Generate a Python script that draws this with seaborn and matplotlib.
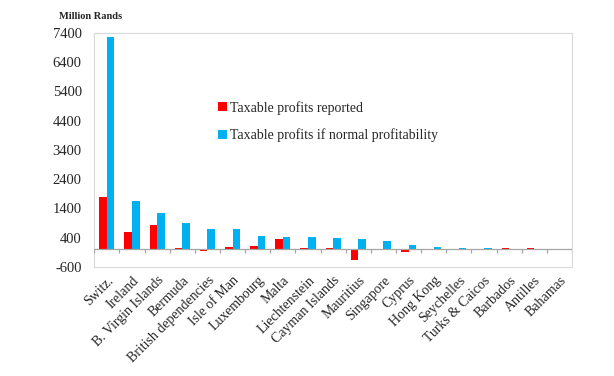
import numpy as np
import pandas as pd
import matplotlib
matplotlib.use('Agg')
import matplotlib.pyplot as plt
import seaborn as sns

countries = ['Switz.', 'Ireland', 'B. Virgin Islands', 'Bermuda', 'British dependencies',
             'Isle of Man', 'Luxembourg', 'Malta', 'Liechtenstein', 'Cayman Islands',
             'Mauritius', 'Singapore', 'Cyprus', 'Hong Kong', 'Seychelles',
             'Turks & Caicos', 'Barbados', 'Antilles', 'Bahamas']
reported = [1800, 600, 850, 50, -50, 90, 110, 370, 40, 40,
            -350, -10, -80, -10, 10, 10, 40, 40, -10]
normal = [7250, 1650, 1250, 900, 700, 700, 450, 425, 415, 380,
          370, 280, 160, 90, 60, 50, 30, 15, 10]
series = ['Taxable profits reported', 'Taxable profits if normal profitability']
colors = ['#FF0000', '#00B0F0']
yticks = [-600, 400, 1400, 2400, 3400, 4400, 5400, 6400, 7400]

df = pd.concat([
    pd.DataFrame({'country': countries, 'value': reported, 'series': series[0]}),
    pd.DataFrame({'country': countries, 'value': normal, 'series': series[1]}),
])

sns.set_style('white')
plt.rcParams['font.family'] = ['Liberation Serif', 'DejaVu Serif']

fig = plt.figure(figsize=(6.14, 3.76), dpi=100)
ax = fig.add_axes([0.1536, 0.29, 0.778, 0.623])

sns.barplot(data=df, x='country', y='value', hue='series', order=countries,
            hue_order=series, palette=dict(zip(series, colors)), width=0.6,
            saturation=1, linewidth=0, ax=ax)

ax.set_ylim(-600, 7400)
ax.set_xlim(-0.5, len(countries) - 0.5)
ax.set_yticks(yticks)
ax.set_yticklabels([str(t) for t in yticks], fontsize=10.5, color='#262626')
ax.set_xticks(range(len(countries)))
ax.set_xticklabels(countries, rotation=45, ha='right', rotation_mode='anchor',
                   fontsize=10, color='#262626')
ax.tick_params(axis='y', length=0, pad=9)
ax.tick_params(axis='x', length=0, pad=5)
ax.set_xlabel('')
ax.set_ylabel('')

for s in ['left', 'right', 'top', 'bottom']:
    ax.spines[s].set_color('#d9d9d9')
    ax.spines[s].set_linewidth(0.8)

# category axis at zero with boundary ticks
ax.axhline(0, color='#a6a6a6', lw=0.9, zorder=3)
ax.vlines(np.arange(len(countries) + 1) - 0.5, -110, 0, color='#a6a6a6', lw=0.9, zorder=3)

handles, labels = ax.get_legend_handles_labels()
ax.legend(handles, labels, loc='upper left', bbox_to_anchor=(0.232, 0.763),
          frameon=False, fontsize=10, handlelength=0.65, handleheight=0.65,
          handletextpad=0.25, labelspacing=1.0, labelcolor='#262626')

fig.text(0.096, 0.955, 'Million Rands', fontsize=7.5, fontweight='bold',
         color='#262626', ha='left', va='center')

fig.savefig('out.png', dpi=100)
